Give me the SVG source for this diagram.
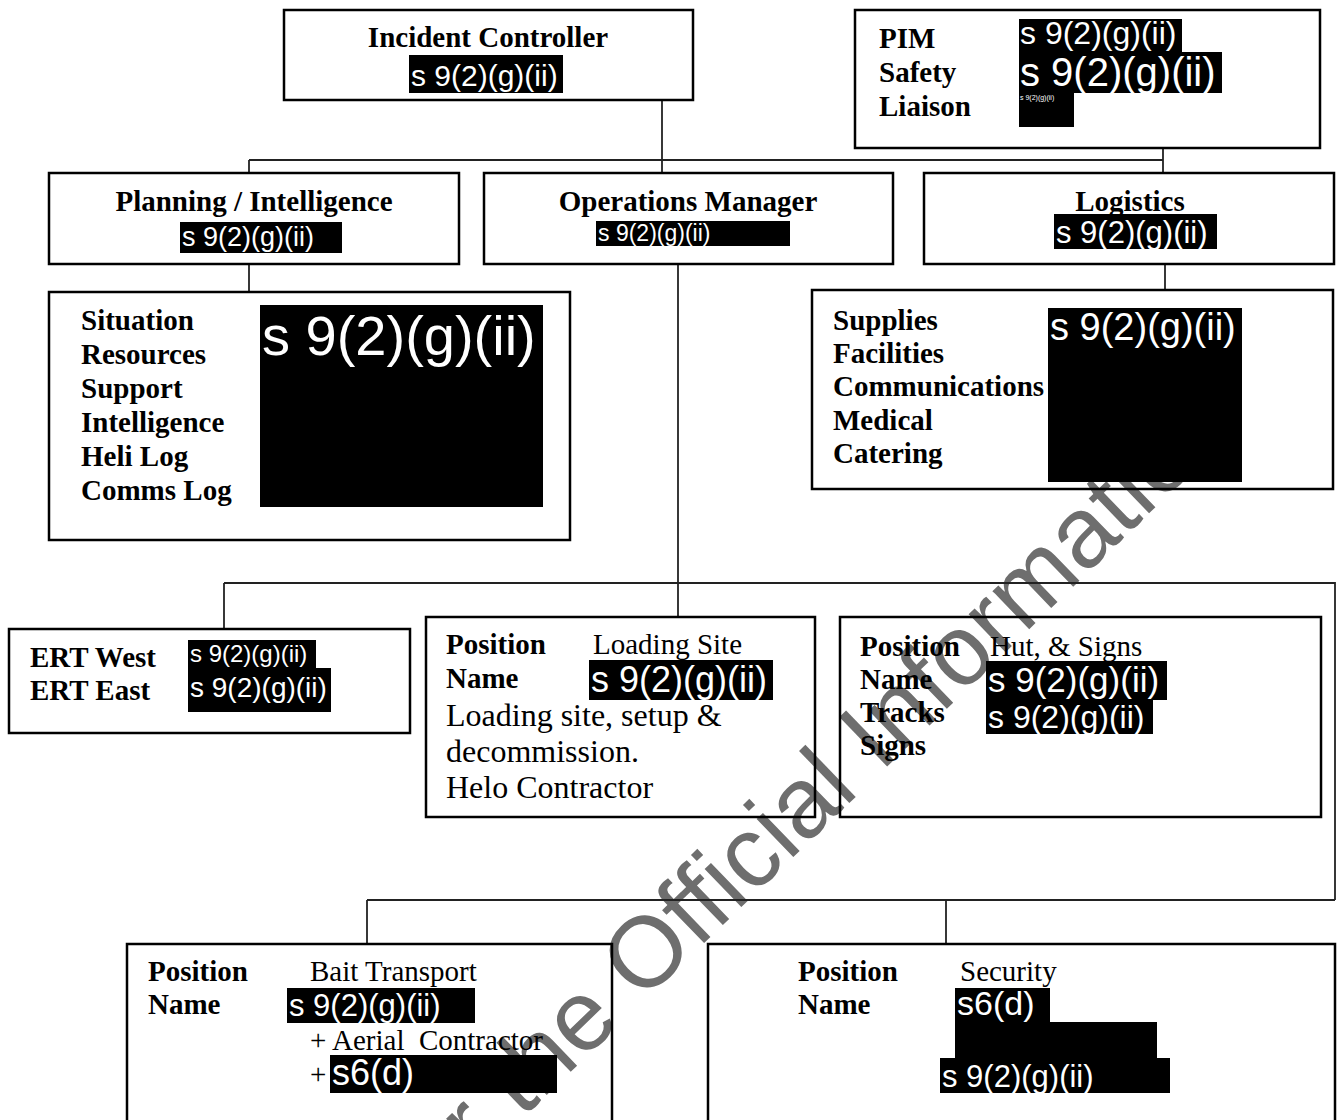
<svg xmlns="http://www.w3.org/2000/svg" width="1339" height="1120" viewBox="0 0 1339 1120">
<style>
.box{fill:none;stroke:#000;stroke-width:2.5}
.conn{fill:none;stroke:#222;stroke-width:1.8}
.b{font-family:"Liberation Serif","Times New Roman",serif;font-weight:bold;font-size:29px;fill:#000}
.r{font-family:"Liberation Serif","Times New Roman",serif;font-size:29px;fill:#000}
.rb{font-size:32px}
.red{fill:#000}
.rt{font-family:"Liberation Sans",Arial,sans-serif;fill:#fff}
.wm{font-family:"Liberation Sans",Arial,sans-serif;font-size:100px;fill:#6e6e6e}
</style>
<rect width="1339" height="1120" fill="#fff"/>
<text class="wm" transform="translate(522,1119) rotate(-44)" x="-734">Released under the Official Information</text>
<g id="connectors">
<path class="conn" d="M662,100 V173"/>
<path class="conn" d="M249,160 H1163"/>
<path class="conn" d="M249,160 V173"/>
<path class="conn" d="M1163,148 V173"/>
<path class="conn" d="M249,264 V292"/>
<path class="conn" d="M1165,264 V290"/>
<path class="conn" d="M678,264 V617"/>
<path class="conn" d="M224,583 H1335 V900"/>
<path class="conn" d="M224,583 V629"/>
<path class="conn" d="M367,900 H1335"/>
<path class="conn" d="M367,900 V944"/>
<path class="conn" d="M946,900 V944"/>
</g>
<g id="incident-controller">
<rect class="box" x="284" y="10" width="409" height="90"/>
<text class="b" x="488" y="47" text-anchor="middle">Incident Controller</text>
<rect class="red" x="409" y="55" width="154" height="38"/>
<text class="rt" x="411" y="86" font-size="30">s 9(2)(g)(ii)</text>
</g>
<g id="pim">
<rect class="box" x="855" y="10" width="465" height="138"/>
<text class="b" x="879" y="48">PIM</text>
<text class="b" x="879" y="82">Safety</text>
<text class="b" x="879" y="116">Liaison</text>
<rect class="red" x="1019" y="19" width="163" height="34"/>
<text class="rt" x="1020" y="44" font-size="32">s 9(2)(g)(ii)</text>
<rect class="red" x="1019" y="52" width="203" height="41"/>
<text class="rt" x="1020" y="86" font-size="40">s 9(2)(g)(ii)</text>
<rect class="red" x="1019" y="92" width="55" height="35"/>
<text class="rt" x="1020" y="100" font-size="7">s 9(2)(g)(ii)</text>
</g>
<g id="planning">
<rect class="box" x="49" y="173" width="410" height="91"/>
<text class="b" x="254" y="211" text-anchor="middle">Planning / Intelligence</text>
<rect class="red" x="180" y="222" width="162" height="31"/>
<text class="rt" x="182" y="246" font-size="27">s 9(2)(g)(ii)</text>
</g>
<g id="operations">
<rect class="box" x="484" y="173" width="409" height="91"/>
<text class="b" x="688" y="211" text-anchor="middle">Operations Manager</text>
<rect class="red" x="596" y="221" width="194" height="25"/>
<text class="rt" x="598" y="241" font-size="23">s 9(2)(g)(ii)</text>
</g>
<g id="logistics">
<rect class="box" x="924" y="173" width="410" height="91"/>
<text class="b" x="1130" y="211" text-anchor="middle">Logistics</text>
<rect class="red" x="1054" y="214" width="163" height="35"/>
<text class="rt" x="1056" y="243" font-size="31">s 9(2)(g)(ii)</text>
</g>
<g id="planning-units">
<rect class="box" x="49" y="292" width="521" height="248"/>
<text class="b" x="81" y="330">Situation</text>
<text class="b" x="81" y="364">Resources</text>
<text class="b" x="81" y="398">Support</text>
<text class="b" x="81" y="432">Intelligence</text>
<text class="b" x="81" y="466">Heli Log</text>
<text class="b" x="81" y="500">Comms Log</text>
<rect class="red" x="260" y="305" width="283" height="202"/>
<text class="rt" x="262" y="355" font-size="56">s 9(2)(g)(ii)</text>
</g>
<g id="logistics-units">
<rect class="box" x="812" y="290" width="521" height="199"/>
<text class="b" x="833" y="330">Supplies</text>
<text class="b" x="833" y="363">Facilities</text>
<text class="b" x="833" y="396">Communications</text>
<text class="b" x="833" y="430">Medical</text>
<text class="b" x="833" y="463">Catering</text>
<rect class="red" x="1048" y="308" width="194" height="174"/>
<text class="rt" x="1050" y="340" font-size="38">s 9(2)(g)(ii)</text>
</g>
<g id="ert">
<rect class="box" x="9" y="629" width="401" height="104"/>
<text class="b" x="30" y="667">ERT West</text>
<text class="b" x="30" y="700">ERT East</text>
<rect class="red" x="188" y="640" width="128" height="28"/>
<text class="rt" x="190" y="662" font-size="24">s 9(2)(g)(ii)</text>
<rect class="red" x="188" y="668" width="143" height="44"/>
<text class="rt" x="190" y="697" font-size="28">s 9(2)(g)(ii)</text>
</g>
<g id="loading-site">
<rect class="box" x="426" y="617" width="389" height="200"/>
<text class="b" x="446" y="654">Position</text>
<text class="r" x="593" y="654">Loading Site</text>
<text class="b" x="446" y="688">Name</text>
<rect class="red" x="589" y="660" width="184" height="40"/>
<text class="rt" x="591" y="692" font-size="36">s 9(2)(g)(ii)</text>
<text class="r rb" x="446" y="726">Loading site, setup &amp;</text>
<text class="r rb" x="446" y="762">decommission.</text>
<text class="r rb" x="446" y="798">Helo Contractor</text>
</g>
<g id="hut-signs">
<rect class="box" x="840" y="617" width="481" height="200"/>
<text class="b" x="860" y="656">Position</text>
<text class="r" x="990" y="656">Hut, &amp; Signs</text>
<text class="b" x="860" y="689">Name</text>
<text class="b" x="860" y="722">Tracks</text>
<text class="b" x="860" y="755">Signs</text>
<rect class="red" x="986" y="661" width="181" height="39"/>
<text class="rt" x="988" y="692" font-size="35">s 9(2)(g)(ii)</text>
<rect class="red" x="986" y="700" width="167" height="34"/>
<text class="rt" x="988" y="728" font-size="32">s 9(2)(g)(ii)</text>
</g>
<g id="bait-transport">
<rect class="box" x="127" y="944" width="485" height="190"/>
<text class="b" x="148" y="981">Position</text>
<text class="r" x="310" y="981">Bait Transport</text>
<text class="b" x="148" y="1014">Name</text>
<rect class="red" x="287" y="988" width="188" height="35"/>
<text class="rt" x="289" y="1016" font-size="31">s 9(2)(g)(ii)</text>
<text class="r" x="310" y="1050" xml:space="preserve">+ Aerial  Contractor</text>
<text class="r" x="310" y="1084">+</text>
<rect class="red" x="330" y="1055" width="227" height="38"/>
<text class="rt" x="332" y="1085" font-size="36">s6(d)</text>
</g>
<g id="security">
<rect class="box" x="708" y="944" width="627" height="190"/>
<text class="b" x="798" y="981">Position</text>
<text class="r" x="960" y="981">Security</text>
<text class="b" x="798" y="1014">Name</text>
<rect class="red" x="955" y="988" width="95" height="35"/>
<text class="rt" x="957" y="1015" font-size="34">s6(d)</text>
<rect class="red" x="955" y="1022" width="202" height="37"/>
<rect class="red" x="940" y="1058" width="230" height="35"/>
<text class="rt" x="942" y="1087" font-size="31">s 9(2)(g)(ii)</text>
</g>
</svg>
